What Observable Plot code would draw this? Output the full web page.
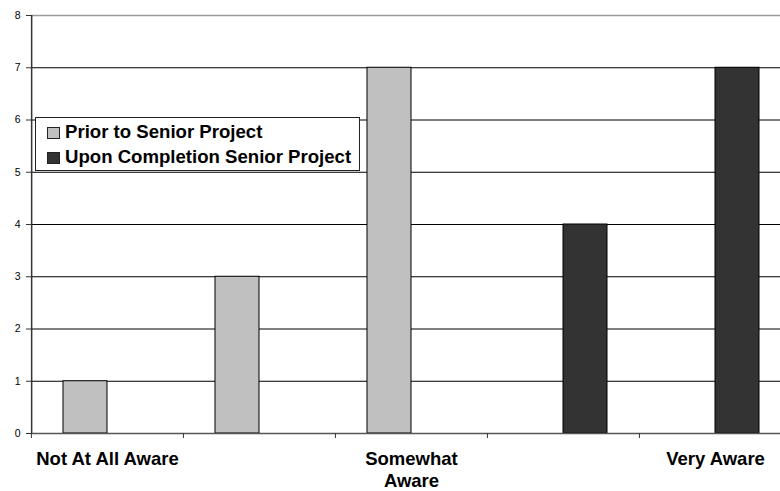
<!DOCTYPE html>
<html>
<head>
<meta charset="utf-8">
<script src="https://cdn.jsdelivr.net/npm/d3@7"></script>
<script src="https://cdn.jsdelivr.net/npm/@observablehq/plot@0.6"></script>
<style>
  html, body { margin: 0; padding: 0; background: #fff; overflow: hidden; width: 780px; height: 491px; }
  #chart { position: relative; width: 780px; height: 491px; overflow: hidden; }
  #chart svg { max-width: none !important; }
  #legend {
    position: absolute; left: 35px; top: 117px; width: 325px; height: 54px;
    border: 1px solid #222; background: #fff; box-sizing: border-box;
    font-family: "Liberation Sans", Arial, Helvetica, sans-serif; font-weight: bold; font-size: 18.6px;
    color: #000;
  }
  .item { position: absolute; left: 11px; height: 22px; line-height: 22px; white-space: nowrap; }
  .swatch { display: inline-block; width: 11px; height: 10px; border: 1px solid #222; margin-right: 5px; vertical-align: -1px; }
</style>
</head>
<body>
<div id="chart"></div>
<script>
// Awareness levels (1 = not at all aware … 5 = very aware); only three are labelled.
const levels = [1, 2, 3, 4, 5];
const levelLabels = ["Not At All Aware", "", "Somewhat\nAware", "", "Very Aware"];

// Number of responses per level, before and after the senior project.
const series = ["Prior to Senior Project", "Upon Completion Senior Project"];
const priorCounts = [1, 3, 7, 0, 0];
const uponCounts = [0, 0, 0, 4, 7];
const seriesColors = ["#c0c0c0", "#333333"];

const yTicks = [0, 1, 2, 3, 4, 5, 6, 7, 8];

const rows = levels.flatMap((level, i) => [
  {level, series: series[0], count: priorCounts[i]},
  {level, series: series[1], count: uponCounts[i]}
]).filter(d => d.count > 0);

// Layout
const W = 791, H = 491, ML = 30, MR = 0, MT = 15, MB = 58;
const step = (W - ML - MR) / levels.length;       // width of one level group
const outerPad = 0.71;                              // space either side of the bar pair
const bw = step / (2 + 2 * outerPad);
const firstBandCenter = outerPad * bw + bw / 2;

const font = "Liberation Sans, Arial, Helvetica, sans-serif";

const chart = Plot.plot({
  width: W, height: H,
  marginLeft: ML, marginRight: MR, marginTop: MT, marginBottom: MB,
  style: {fontFamily: font, background: "#fff", color: "#000", overflow: "visible", maxWidth: "none"},
  fx: {domain: levels, padding: 0, axis: null, label: null},
  x: {domain: series, paddingInner: 0, paddingOuter: outerPad, axis: null, label: null},
  y: {domain: [0, 8], axis: null, label: null},
  color: {domain: series, range: seriesColors},
  marks: [
    // horizontal gridlines
    Plot.ruleY(yTicks.filter(t => t > 0 && t < 8), {stroke: "#000", strokeWidth: 1}),
    Plot.ruleY([8], {stroke: "#9a9a9a", strokeWidth: 1.5}),
    // bars
    Plot.barY(rows, {fx: "level", x: "series", y: "count", fill: "series", stroke: "#000", strokeWidth: 1}),
    // baseline
    Plot.ruleY([0], {stroke: "#555", strokeWidth: 1.5}),
    // left axis line
    Plot.ruleX([levels[0]], {fx: d => d, x: () => series[0], y1: 0, y2: 8, dx: -firstBandCenter, stroke: "#333", strokeWidth: 1.5}),
    // y ticks and labels
    Plot.axisY({ticks: yTicks, tickSize: 5, tickPadding: 6, fontSize: 10.5, label: null, stroke: "#333"}),
    // group boundary ticks below the baseline
    Plot.axisFx({anchor: "bottom", tickSize: 5, tickFormat: () => "", dx: -step / 2, label: null, stroke: "#333"}),
    // level labels
    Plot.text(levels, {
      fx: levels, text: levelLabels, frameAnchor: "bottom", lineAnchor: "top",
      dy: 16, fontSize: 18.5, fontWeight: "bold", lineHeight: 1.17, fill: "#000"
    })
  ]
});

const container = document.getElementById("chart");
container.appendChild(chart);

// Legend inside the plot area
const legend = document.createElement("div");
legend.id = "legend";
series.forEach((name, i) => {
  const item = document.createElement("div");
  item.className = "item";
  item.style.top = (3 + i * 25) + "px";
  const sw = document.createElement("span");
  sw.className = "swatch";
  sw.style.background = seriesColors[i];
  item.appendChild(sw);
  item.appendChild(document.createTextNode(name));
  legend.appendChild(item);
});
container.appendChild(legend);
</script>
</body>
</html>
